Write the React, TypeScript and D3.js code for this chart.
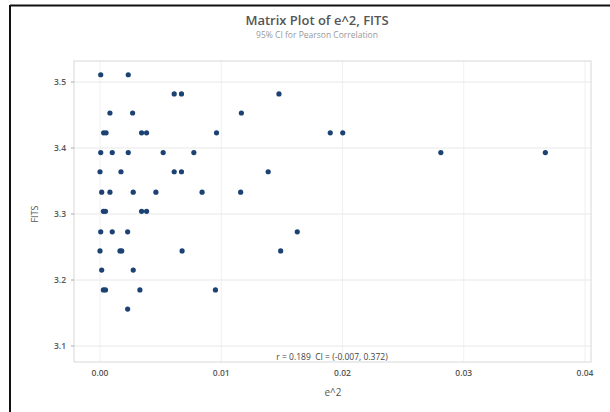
import React from 'react'
import * as d3 from 'd3'

// FITS rows (each row of points shares one fitted value)
const fitsRows = [3.511, 3.482, 3.453, 3.423, 3.393, 3.364, 3.333, 3.304, 3.273, 3.244, 3.215, 3.185, 3.156]

// e^2 values for each row
const e2Rows = [
  [0.00006, 0.00233],
  [0.00612, 0.00672, 0.01476],
  [0.00082, 0.00269, 0.01166],
  [0.0003, 0.0005, 0.00343, 0.00384, 0.00961, 0.01899, 0.02002],
  [0.00006, 0.00101, 0.00233, 0.00521, 0.00774, 0.02811, 0.03673],
  [0.0, 0.00173, 0.00612, 0.00672, 0.01387],
  [0.00014, 0.00082, 0.00274, 0.00461, 0.00842, 0.0116],
  [0.00028, 0.00045, 0.00343, 0.00384],
  [0.00006, 0.00101, 0.00228, 0.01627],
  [0.0, 0.00165, 0.00179, 0.00677, 0.0149],
  [0.00014, 0.00274],
  [0.00028, 0.00045, 0.00329, 0.00952],
  [0.00228],
]

const xTicks = [0, 0.01, 0.02, 0.03, 0.04]
const yTicks = [3.1, 3.2, 3.3, 3.4, 3.5]

const title = 'Matrix Plot of e^2, FITS'
const subtitle = '95% CI for Pearson Correlation'
const corrText = 'r = 0.189\u00a0\u00a0CI = (-0.007, 0.372)'

export default function App() {
  const width = 610
  const height = 412
  const plot = { left: 74, right: 591, top: 61, bottom: 362 }

  const x = d3.scaleLinear().domain([0, 0.04]).range([100, 585])
  const y = d3.scaleLinear().domain([3.1, 3.5]).range([346, 82])

  const points = fitsRows.flatMap((f, i) => e2Rows[i].map(e => ({ e, f })))
  const font = "'Open Sans', 'Noto Sans', sans-serif"

  return (
    <div style={{ position: 'absolute', left: 0, top: 0 }}>
      <svg width={width} height={height} style={{ display: 'block', background: '#fff' }} fontFamily={font}>
        {/* outer frame (top and left edges) */}
        <line x1={10} x2={width} y1={5.5} y2={5.5} stroke="#111" strokeWidth={2} />
        <line x1={10} x2={10} y1={5} y2={height} stroke="#111" strokeWidth={2} />

        <text x={317} y={25} textAnchor="middle" fontSize={13} fontWeight={600} fill="#555">{title}</text>
        <text x={317} y={38} textAnchor="middle" fontSize={8.5} fill="#999">{subtitle}</text>

        {/* grid */}
        {xTicks.map(t => (
          <line key={'gx' + t} x1={x(t)} x2={x(t)} y1={plot.top} y2={plot.bottom} stroke="#f0f0f0" />
        ))}
        {yTicks.map(t => (
          <line key={'gy' + t} x1={plot.left} x2={plot.right} y1={y(t)} y2={y(t)} stroke="#e8e8e8" />
        ))}
        <rect x={plot.left} y={plot.top} width={plot.right - plot.left} height={plot.bottom - plot.top}
          fill="none" stroke="#d8d8d8" />

        {/* axes ticks + labels */}
        {yTicks.map(t => (
          <g key={'ty' + t}>
            <line x1={plot.left - 3} x2={plot.left} y1={y(t)} y2={y(t)} stroke="#aaa" />
            <text x={plot.left - 8} y={y(t)} dy="0.35em" textAnchor="end" fontSize={8.5} fontWeight={600} fill="#555">
              {d3.format('.1f')(t)}
            </text>
          </g>
        ))}
        {xTicks.map(t => (
          <text key={'tx' + t} x={x(t)} y={376} textAnchor="middle" fontSize={8.5} fontWeight={600} fill="#555">
            {d3.format('.2f')(t)}
          </text>
        ))}
        <text x={333} y={396} textAnchor="middle" fontSize={10} fill="#555">e^2</text>
        <text transform={`translate(38,${y(3.3)}) rotate(-90)`} textAnchor="middle" fontSize={9} fill="#555">FITS</text>

        {/* points */}
        {points.map((p, i) => (
          <circle key={i} cx={x(p.e)} cy={y(p.f)} r={2.6} fill="#1b4273" />
        ))}

        <text x={332} y={359.5} textAnchor="middle" fontSize={8.5} fill="#444">{corrText}</text>
      </svg>
    </div>
  )
}
